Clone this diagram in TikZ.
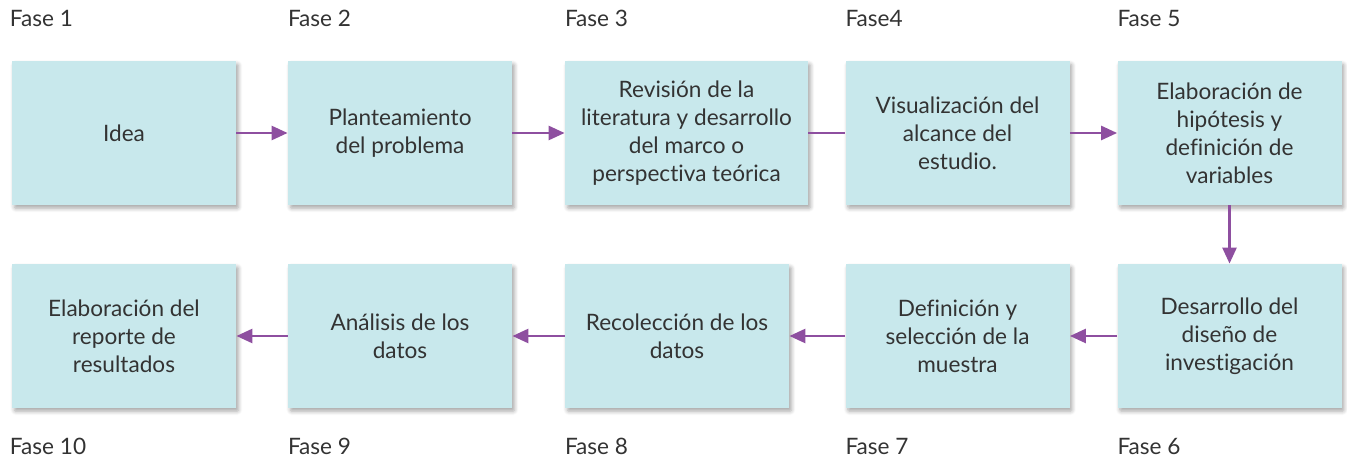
\documentclass[tikz,border=0pt]{standalone}
\usepackage{fontspec}
\setmainfont{Lato}[Ligatures=NoCommon]
\usetikzlibrary{shadows.blur,arrows.meta}
\definecolor{boxfill}{HTML}{C8E8EC}
\definecolor{flecha}{HTML}{8E4FA0}
\definecolor{texto}{HTML}{333333}

\begin{document}
\begin{tikzpicture}[x=0.5pt,y=-0.5pt]
\tikzstyle{fase}=[rectangle, fill=boxfill, minimum width=112pt, minimum height=72pt,
  align=center, text=texto, font=\fontsize{11.3}{14}\selectfont, inner sep=2pt,
  blur shadow={shadow xshift=1.2pt, shadow yshift=-1.6pt, shadow blur steps=6,
  shadow blur extra rounding=0.6pt, shadow opacity=35}]
\tikzstyle{etiq}=[anchor=base west, text=texto, inner sep=0pt, font=\fontsize{11.3}{14}\selectfont]
\tikzstyle{flujo}=[draw=flecha, line width=1.3pt, -{Triangle[length=8pt,width=7pt]}]

    \useasboundingbox (0,0) rectangle (1347,458);

    % primera fila
    \node[fase] (r1) at (124,133) {Idea};
    \node[fase] (r2) at (400,133) {Planteamiento\\del problema};
    \node[fase, minimum width=121.5pt] (r3) at (686.5,133)
      {Revisión de la\\literatura y desarrollo\\del marco o\\perspectiva teórica};
    \node[fase] (r4) at (957.5,133) {Visualización del\\alcance del\\estudio.};
    \node[fase] (r5) at (1229.5,133)
      {Elaboración de\\hipótesis y\\definición de\\variables};

    % segunda fila
    \node[fase] (r6) at (1229.5,336) {Desarrollo del\\diseño de\\investigación};
    \node[fase] (r7) at (957.5,336) {Definición y\\selección de la\\muestra};
    \node[fase] (r8) at (677,336) {Recolección de los\\datos};
    \node[fase] (r9) at (400,336) {Análisis de los\\datos};
    \node[fase] (r10) at (124,336) {Elaboración del\\reporte de\\resultados};

    % etiquetas
    \node[etiq] (F1) at ([xshift=-1pt,yshift=17pt]r1.north west) {Fase 1};
    \node[etiq] (F2) at ([yshift=17pt]r2.north west) {Fase 2};
    \node[etiq] (F3) at ([yshift=17pt]r3.north west) {Fase 3};
    \node[etiq] (F4) at ([yshift=17pt]r4.north west) {Fase4};
    \node[etiq] (F5) at ([yshift=17pt]r5.north west) {Fase 5};
    \node[etiq] (F6) at ([yshift=-23pt]r6.south west) {Fase 6};
    \node[etiq] (F7) at ([yshift=-23pt]r7.south west) {Fase 7};
    \node[etiq] (F8) at ([yshift=-23pt]r8.south west) {Fase 8};
    \node[etiq] (F9) at ([yshift=-23pt]r9.south west) {Fase 9};
    \node[etiq] (F10) at ([xshift=-1pt,yshift=-23pt]r10.south west) {Fase 10};

    % flechas
    \draw[flujo] (r1) -- (r2);
    \draw[flujo] (r2) -- (r3);
    \draw[draw=flecha, line width=1.3pt] (r3) -- (r4);
    \draw[flujo] (r4) -- (r5);
    \draw[flujo] (r5) -- (r6);
    \draw[flujo] (r6) -- (r7);
    \draw[flujo] (r7) -- (r8);
    \draw[flujo] (r8) -- (r9);
    \draw[flujo] (r9) -- (r10);
\end{tikzpicture}
\end{document}
